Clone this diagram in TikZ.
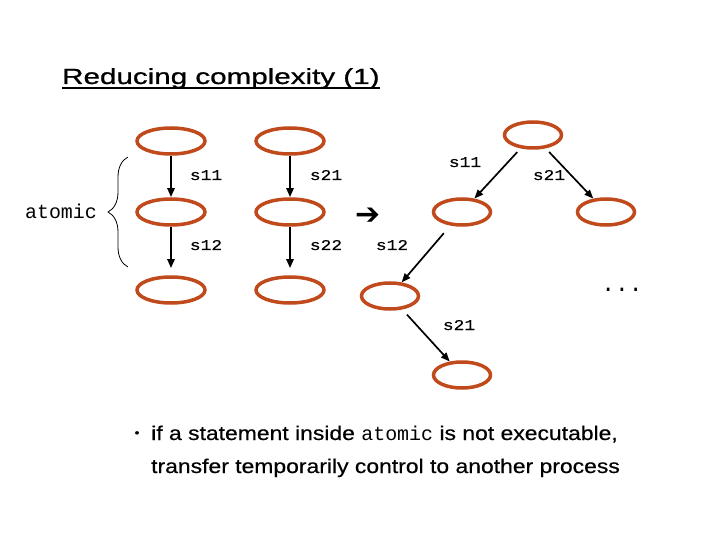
\documentclass[tikz,border=0pt]{standalone}
\usepackage{fontspec}
\setmainfont{Liberation Sans}
\newfontfamily\titlefont[FakeStretch=1.35,FakeBold=1]{Liberation Sans}
\newfontfamily\bodyfont[FakeStretch=1.15,FakeBold=0.5]{Liberation Sans}
\newfontfamily\codefont{Liberation Mono}
\newfontfamily\labelfont[FakeStretch=1.2,FakeBold=0.4]{Liberation Mono}
\newfontfamily\symfont{DejaVu Sans}
\usetikzlibrary{arrows.meta,positioning,shapes.geometric,decorations.pathreplacing}
\definecolor{staterust}{RGB}{192,74,28}
\begin{document}
\begin{tikzpicture}[x=1bp,y=-1bp,
  state/.style={ellipse, draw=staterust, line width=3.5bp, minimum width=68bp, minimum height=26bp, inner sep=0pt},
  narrowstate/.style={state, minimum width=57bp},
  trans/.style={-{Triangle[length=9bp,width=7bp]}, line width=2.2bp},
  branch/.style={-{Triangle[length=9bp,width=7bp]}, line width=1.7bp, shorten <=5bp},
  lbl/.style={font=\labelfont\fontsize{15}{15}\selectfont, inner sep=0pt, anchor=base}]
\useasboundingbox (0,0) rectangle (720,540);
% Title
\node[font=\titlefont\fontsize{22}{22}\selectfont, inner sep=0pt, anchor=base west] (title) at (62,84) {Reducing complexity (1)};
\draw[line width=1.6bp] ([yshift=-4bp]title.base west) -- ([yshift=-4bp]title.base east);
% First process
\node[state] (p1a) at (171,141) {};
\node[state] (p1b) at (171,212) {};
\node[state] (p1c) at (171,290) {};
\draw[trans] (p1a) -- (p1b);
\draw[trans, shorten >=7bp] (p1b) -- (p1c);
\node[lbl] at (206,180) {s11};
\node[lbl] at (206,250) {s12};
% Second process
\node[state] (p2a) at (290,141) {};
\node[state] (p2b) at (290,212) {};
\node[state] (p2c) at (290,290) {};
\draw[trans] (p2a) -- (p2b);
\draw[trans, shorten >=7bp] (p2b) -- (p2c);
\node[lbl] at (326,180) {s21};
\node[lbl] at (326,250) {s22};
% Brace
\coordinate (braceBot) at (128,267);
\coordinate (braceTop) at (128,157);
\draw[line width=0.8bp, decorate, decoration={brace, amplitude=20bp}] (braceBot) -- (braceTop);
\node[font=\codefont\fontsize{20}{20}\selectfont, inner sep=0pt, anchor=base] (atomic) at (61,219) {atomic};
% Arrow
\node[font=\symfont\fontsize{30}{30}\selectfont, inner sep=0pt] (implies) at (368,216) {➔};
% Interleavings
\node[narrowstate] (root) at (533,135) {};
\node[narrowstate] (ta) at (462,212) {};
\node[narrowstate] (tb) at (606,212) {};
\node[narrowstate] (tc) at (390,296) {};
\node[narrowstate] (td) at (462,375) {};
\draw[branch] (root) -- (ta);
\draw[branch] (root) -- (tb);
\draw[branch, shorten <=10bp] (ta) -- (tc);
\draw[branch, shorten <=7bp] (tc) -- (td);
\node[lbl] at (465,167) {s11};
\node[lbl] at (549,180) {s21};
\node[lbl] at (392,250) {s12};
\node[lbl] at (459,330) {s21};
\node[font=\codefont\fontsize{23}{23}\selectfont, inner sep=0pt] (dots) at (622,290) {...};
% Remark
\node[font=\bodyfont\fontsize{12}{12}\selectfont, inner sep=0pt] (bullet) at (137,434) {•};
\node[font=\bodyfont\fontsize{20}{20}\selectfont, inner sep=0pt, anchor=base west] (line1) at (151,440)
  {if a statement inside {\codefont atomic} is not executable,};
\node[font=\bodyfont\fontsize{20}{20}\selectfont, inner sep=0pt, anchor=base west] (line2) at (151,473)
  {transfer temporarily control to another process};
\end{tikzpicture}
\end{document}
